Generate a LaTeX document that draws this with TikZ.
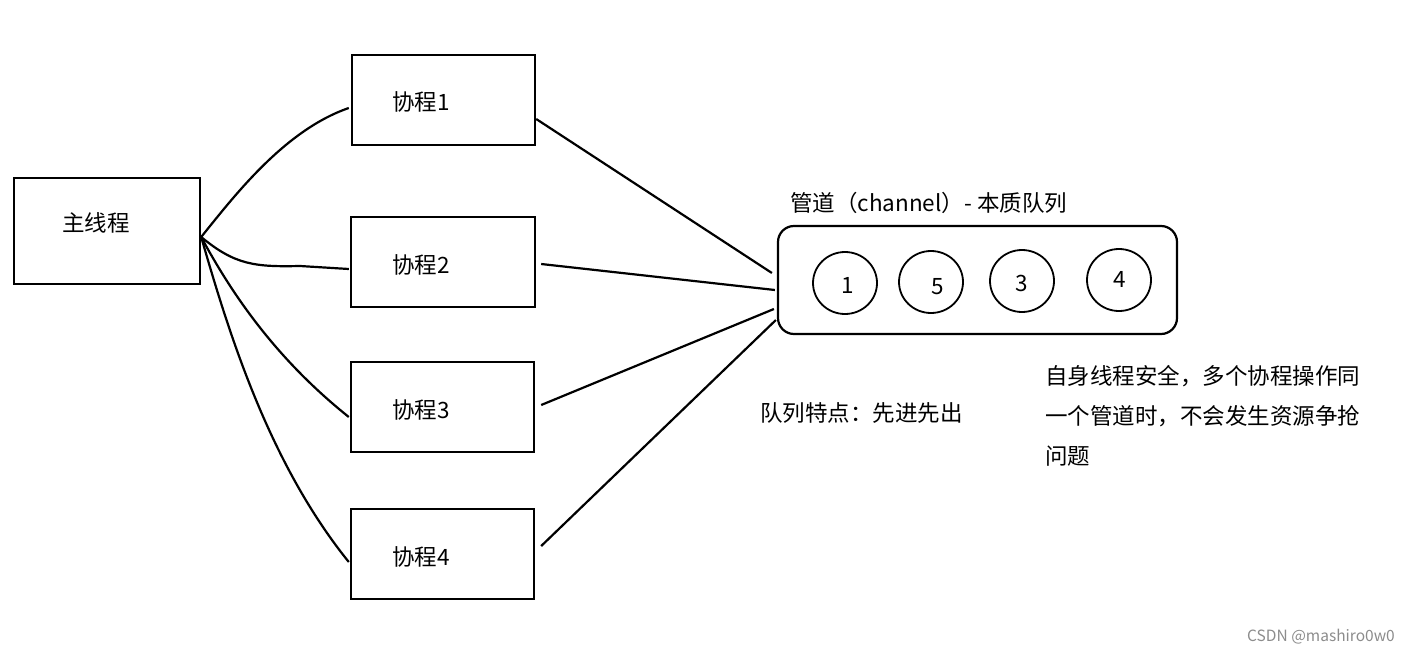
\documentclass[tikz,border=0pt]{standalone}
\usepackage{fontspec}
\setmainfont{Noto Sans CJK SC}
\usetikzlibrary{calc,shapes.geometric}
\begin{document}
\begin{tikzpicture}[x=1pt,y=-1pt,
  box/.style={draw,line width=2.4pt,inner sep=0pt},
  txt/.style={inner sep=0pt,font=\fontsize{22.5}{27}\selectfont},
  conn/.style={line width=2.2pt},
  ball/.style={draw,line width=1.8pt,ellipse,inner sep=0pt,minimum width=64,minimum height=62},
  ]
\useasboundingbox (0,0) rectangle (1408,653);
% main thread
\node[box,minimum width=186,minimum height=106] (m) at (107,231) {};
\node[txt] (mt) at (96,223) {主线程};
% coroutines
\node[box,minimum width=183,minimum height=90] (c1) at (443.5,100) {};
\node[box,minimum width=184,minimum height=90] (c2) at (443,262) {};
\node[box,minimum width=183,minimum height=90] (c3) at (442.5,407) {};
\node[box,minimum width=183,minimum height=90] (c4) at (442.5,554) {};
\node[txt,anchor=west] (t1) at (392,102) {协程1};
\node[txt,anchor=west] (t2) at (392,265) {协程2};
\node[txt,anchor=west] (t3) at (392,410) {协程3};
\node[txt,anchor=west] (t4) at (392,557) {协程4};
% channel
\node[draw,line width=2.2pt,rounded corners=16pt,minimum width=399,minimum height=108,inner sep=0pt] (ch) at (977.5,280) {};
\node[txt,anchor=west] (chl) at (790,203) {管道（channel）- 本质队列};
\node[ball] (b1) at (845,283) {};
\node[ball] (b2) at (931,282) {};
\node[ball] (b3) at (1022,281) {};
\node[ball] (b4) at (1119,280) {};
\node[txt] (n1) at (848,285) {1};
\node[txt] (n2) at (938,287) {5};
\node[txt] (n3) at (1022,283) {3};
\node[txt] (n4) at (1120,279) {4};
% notes
\node[txt,anchor=west] (q) at (760,413) {队列特点：先进先出};
\node[txt,anchor=north west,align=left,font=\fontsize{22.5}{40}\selectfont] (safe) at (1045,365) {自身线程安全，多个协程操作同\\一个管道时，不会发生资源争抢\\问题};
\node[inner sep=0pt,anchor=east,text=black!45,font=\fontsize{15.5}{18}\selectfont] (wm) at (1395,637) {CSDN @mashiro0w0};
% connectors main -> coroutines
\coordinate (ms) at ($(m.east)+(0,6)$);
\draw[conn] (ms) .. controls (235,195) and (285,130) .. ($(c1.west)+(-2,8)$);
\draw[conn] (ms) .. controls (235,265) and (255,267) .. (300,266) -- ($(c2.west)+(-1,7)$);
\draw[conn] (ms) .. controls (235,300) and (280,362) .. ($(c3.west)+(-1,10)$);
\draw[conn] (ms) .. controls (228,330) and (268,462) .. ($(c4.west)+(-1,8)$);
% connectors coroutines -> channel
\draw[conn] ($(c1.east)+(0,19)$) -- ($(ch.west)+(-5,-7)$);
\draw[conn] ($(c2.east)+(5,2)$) -- ($(ch.west)+(-2,10)$);
\draw[conn] ($(c3.east)+(6,-2)$) -- ($(ch.west)+(-3,29)$);
\draw[conn] ($(c4.east)+(6,-8)$) -- ($(ch.west)+(-1,40)$);
\end{tikzpicture}
\end{document}
